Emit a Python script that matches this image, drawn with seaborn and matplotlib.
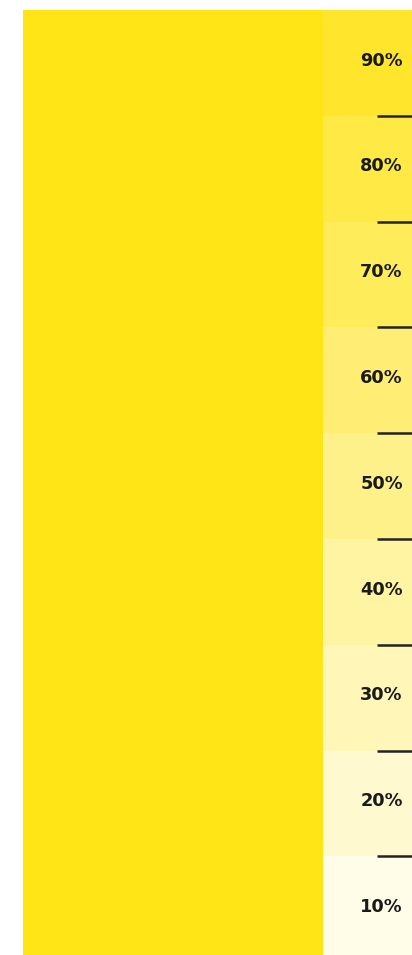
import matplotlib
matplotlib.use("Agg")
import matplotlib.pyplot as plt
import seaborn as sns
import pandas as pd

# ---- data ----
percentiles = [90, 80, 70, 60, 50, 40, 30, 20, 10]
labels = ["90%", "80%", "70%", "60%", "50%", "40%", "30%", "20%", "10%"]
main_category = ["full"]
main_value = [90]
base_color = "#FFE416"

sns.set_theme(style="white")
plt.rcParams["font.family"] = ["DejaVu Sans"]

W, H = 412, 955
fig = plt.figure(figsize=(W / 100, H / 100), dpi=100)
fig.patch.set_facecolor("white")

# axes placement in pixels (layout)
left_px, top_px = 23, 10
unit_px = 105.8 / 10.0
ax_h_px = 90 * unit_px
bottom_px = top_px + ax_h_px
ax = fig.add_axes([left_px / W, (H - bottom_px) / H, (W - left_px) / W, ax_h_px / H])

# main bar (seaborn)
df = pd.DataFrame({"cat": main_category, "val": main_value})
sns.barplot(data=df, x="cat", y="val", color=base_color, saturation=1,
            width=1.0, ax=ax, linewidth=0, edgecolor="none")

col_left = 0.5
col_w = 89 / 300.0
for p, lab in zip(percentiles, labels):
    ax.bar(col_left, 10, bottom=p - 10, width=col_w, align="edge",
           color=base_color, alpha=p / 100.0, linewidth=0, edgecolor="none")
    ax.text(col_left + 58.5 / 300.0, p - 5 + 0.22, lab, ha="center", va="center",
            fontsize=12.8, fontweight="bold", color="#1a1a1a")

# boundary marks
for p in percentiles[:-1]:
    b = p - 10
    ax.plot([col_left + 54 / 300.0, col_left + col_w], [b, b],
            color="#222222", linewidth=1.8, solid_capstyle="butt", zorder=5)

ax.set_xlim(-0.5, col_left + col_w)
ax.set_ylim(0, 90)
ax.axis("off")

fig.savefig("out.png", dpi=100, facecolor="white")
